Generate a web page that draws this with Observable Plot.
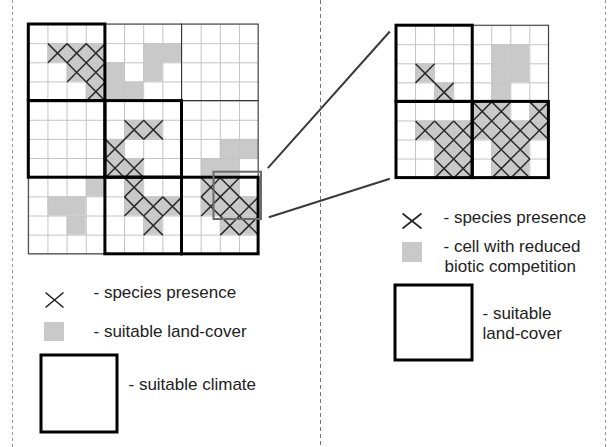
<!DOCTYPE html>
<html><head><meta charset="utf-8">
<script src="https://cdn.jsdelivr.net/npm/d3@7"></script>
<script src="https://cdn.jsdelivr.net/npm/@observablehq/plot@0.6"></script>
<style>html,body{margin:0;padding:0;background:#fff}#chart svg{display:block}</style>
</head><body><div id="chart"></div>
<script>
// ---- data: [column, row] cells ----
const leftPresence = [[1,1],[2,1],[3,1],[2,2],[3,2],[3,3],[5,5],[6,5],[4,6],[4,7],[5,7],[5,8],[9,8],[10,8],[5,9],[6,9],[7,9],[9,9],[10,9],[11,9],[6,10],[10,10],[11,10]];
const leftLandCover = [[6,1],[7,1],[4,2],[6,2],[4,3],[5,3],[10,6],[11,6],[9,7],[10,7],[3,8],[1,9],[2,9],[2,10]];
const leftClimateBlocks = [[0,0],[0,1],[1,1],[1,2],[2,2]];
const rightPresence = [[1,2],[2,3],[4,4],[5,4],[7,4],[1,5],[2,5],[3,5],[4,5],[5,5],[6,5],[7,5],[2,6],[3,6],[5,6],[6,6],[2,7],[3,7],[5,7],[6,7]];
const rightCompetition = [[5,1],[6,1],[5,2],[6,2],[5,3]];
const rightLandCoverBlocks = [[0,0],[0,1],[1,1]];
const leftLegendLabels = ["- species presence", "- suitable land-cover", "- suitable climate"];
const rightLegendLabels = ["- species presence", "- cell with reduced", "biotic competition", "- suitable", "land-cover"];

// ---- layout ----
const L = {x0: 28.3, y0: 24, cs: 19.15, n: 12};
const R = {x0: 396, y0: 25.2, cs: 19.05, n: 8};
const cell = (g, [c, r]) => ({x1: g.x0 + c*g.cs, x2: g.x0 + (c+1)*g.cs, y1: g.y0 + r*g.cs, y2: g.y0 + (r+1)*g.cs});
const block = (g, [c, r]) => ({x1: g.x0 + c*4*g.cs, x2: g.x0 + (c+1)*4*g.cs, y1: g.y0 + r*4*g.cs, y2: g.y0 + (r+1)*4*g.cs});
const allBlocks = g => d3.cross(d3.range(g.n/4), d3.range(g.n/4)).map(b => block(g, b));
const crosses = cells => cells.flatMap(c => [{x1:c.x1,y1:c.y1,x2:c.x2,y2:c.y2},{x1:c.x1,y1:c.y2,x2:c.x2,y2:c.y1}]);
const gridV = g => d3.range(g.n+1).map(i => ({x: g.x0 + i*g.cs, y1: g.y0, y2: g.y0 + g.n*g.cs}));
const gridH = g => d3.range(g.n+1).map(i => ({y: g.y0 + i*g.cs, x1: g.x0, x2: g.x0 + g.n*g.cs}));

const lPres = leftPresence.map(d => cell(L, d));
const lGray = leftLandCover.map(d => cell(L, d)).concat(lPres);
const rPres = rightPresence.map(d => cell(R, d));
const rGray = rightCompetition.map(d => cell(R, d)).concat(rPres);

// legend symbols
const legendCross = [{x1:45,y1:292,x2:63,y2:307},{x1:402,y1:213,x2:421,y2:228}];
const legendGray = [{x1:44,y1:322,x2:64,y2:341},{x1:402,y1:242,x2:422,y2:262}];
const legendBox = [{x1:41,y1:355,x2:117,y2:432},{x1:395,y1:285,x2:472,y2:360}];
const legendText = [
  {x:93, y:292.5, t:leftLegendLabels[0]},
  {x:93, y:331.5, t:leftLegendLabels[1]},
  {x:128, y:384.5, t:leftLegendLabels[2]},
  {x:443, y:217.5, t:rightLegendLabels[0]},
  {x:443, y:246.5, t:rightLegendLabels[1]},
  {x:444, y:266.5, t:rightLegendLabels[2]},
  {x:482, y:313, t:rightLegendLabels[3]},
  {x:482, y:333, t:rightLegendLabels[4]}
];
const inset = [{x1:213.5,y1:171.7,x2:261,y2:219}];
const connectors = [{x1:267.3,y1:167.7,x2:389.3,y2:31},{x1:268.3,y1:216.7,x2:389.3,y2:178.3}];

const thin = "#c4c4c4";
const gridMarks = g => [
  Plot.ruleX(gridV(g), {x:"x", y1:"y1", y2:"y2", stroke:thin, strokeWidth:1}),
  Plot.ruleY(gridH(g), {y:"y", x1:"x1", x2:"x2", stroke:thin, strokeWidth:1})
];

const chart = Plot.plot({
  width: 611, height: 447,
  marginTop: 0, marginRight: 0, marginBottom: 0, marginLeft: 0,
  x: {type: "linear", domain: [0, 611], range: [0, 611], axis: null},
  y: {type: "linear", domain: [0, 447], range: [0, 447], axis: null},
  style: {fontFamily: "'Liberation Sans', Arial, sans-serif", background: "#fff"},
  marks: [
    Plot.rect(lGray.concat(rGray), {x1:"x1", x2:"x2", y1:"y1", y2:"y2", fill:"#c9c9c9"}),
    ...gridMarks(L), ...gridMarks(R),
    Plot.link(crosses(lPres).concat(crosses(rPres)), {x1:"x1", y1:"y1", x2:"x2", y2:"y2", stroke:"#2b2b2b", strokeWidth:1.5}),
    Plot.rect(allBlocks(L), {x1:"x1", x2:"x2", y1:"y1", y2:"y2", fill:"none", stroke:"#333", strokeWidth:1}),
    Plot.rect(allBlocks(R), {x1:"x1", x2:"x2", y1:"y1", y2:"y2", fill:"none", stroke:"#333", strokeWidth:1}),
    Plot.rect(leftClimateBlocks.map(b => block(L, b)), {x1:"x1", x2:"x2", y1:"y1", y2:"y2", fill:"none", stroke:"#000", strokeWidth:3}),
    Plot.rect(rightLandCoverBlocks.map(b => block(R, b)), {x1:"x1", x2:"x2", y1:"y1", y2:"y2", fill:"none", stroke:"#000", strokeWidth:3}),
    Plot.rect(inset, {x1:"x1", x2:"x2", y1:"y1", y2:"y2", fill:"none", stroke:"#6a6a6a", strokeWidth:2}),
    Plot.link(connectors, {x1:"x1", y1:"y1", x2:"x2", y2:"y2", stroke:"#3a3a3a", strokeWidth:2}),
    Plot.ruleX([320], {y1: 0, y2: 447, stroke:"#777", strokeWidth:1, strokeDasharray:"4,3"}),
    Plot.ruleX([12, 605], {y1: 0, y2: 447, stroke:"#999", strokeWidth:1, strokeDasharray:"3,3"}),
    Plot.link(legendCross.flatMap(c => [{x1:c.x1,y1:c.y1,x2:c.x2,y2:c.y2},{x1:c.x1,y1:c.y2,x2:c.x2,y2:c.y1}]), {x1:"x1", y1:"y1", x2:"x2", y2:"y2", stroke:"#222", strokeWidth:1.6}),
    Plot.rect(legendGray, {x1:"x1", x2:"x2", y1:"y1", y2:"y2", fill:"#c9c9c9"}),
    Plot.rect(legendBox, {x1:"x1", x2:"x2", y1:"y1", y2:"y2", fill:"none", stroke:"#000", strokeWidth:3}),
    Plot.text(legendText, {x:"x", y:"y", text:"t", textAnchor:"start", fontSize:17, fill:"#222"})
  ]
});
document.getElementById("chart").append(chart);
</script>
</body></html>
